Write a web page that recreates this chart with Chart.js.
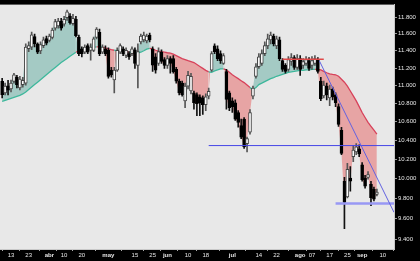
<!DOCTYPE html>
<html><head><meta charset="utf-8">
<script src="https://cdn.jsdelivr.net/npm/chart.js@4/dist/chart.umd.min.js"></script>
<style>html,body{margin:0;padding:0;background:#000;}canvas{display:block;}</style>
</head><body>
<canvas id="c" width="420" height="261"></canvas>
<script>
// ---- data ----
const tradingDays = {
  '2015-03': [10,11,12,13,16,17,18,19,20,23,24,25,26,27,30,31],
  '2015-04': [1,2,7,8,9,10,13,14,15,16,17,20,21,22,23,24,27,28,29,30],
  '2015-05': [4,5,6,7,8,11,12,13,14,15,18,19,20,21,22,25,26,27,28,29],
  '2015-06': [1,2,3,4,5,8,9,10,11,12,15,16,17,18,19,22,23,24,25,26,29,30],
  '2015-07': [1,2,3,6,7,8,9,10,13,14,15,16,17,20,21,22,23,24,27,28,29,30,31],
  '2015-08': [3,4,5,6,7,10,11,12,13,14,17,18,19,20,21,24,25,26,27,28,31],
  '2015-09': [1,2,3,4,7,8,9,10,11,14,15]
};
const open = [11048,10918,10998,10962,11048,11095,10973,11010,11028,11423,11443,11566,11481,11397,11461,11543,11520,11558,11667,11694,11753,11714,11793,11812,11722,11773,11562,11423,11385,11461,11404,11404,11558,11616,11385,11423,11404,11177,11065,11177,11385,11423,11346,11366,11366,11412,11230,11504,11527,11516,11585,11423,11328,11252,11385,11298,11230,11309,11309,11185,11051,11028,10830,10995,10940,10918,10899,10874,10863,10787,10881,11177,11458,11423,11366,11252,11159,10918,10830,10809,10701,10559,10629,10365,10488,10881,11103,11215,11252,11366,11458,11527,11574,11458,11527,11286,11230,11185,11275,11320,11207,11309,11230,11252,11286,11230,11252,11298,11051,10885,10995,10863,10962,10896,10766,10509,9974,9815,10007,10228,10279,10310,10142,10007,10014,9941,9891,9841];
const high = [11084,11028,11061,11062,11140,11117,11106,11095,11481,11504,11620,11597,11492,11504,11562,11574,11597,11667,11773,11785,11785,11808,11886,11844,11832,11808,11585,11446,11469,11481,11481,11562,11675,11655,11469,11458,11435,11207,11207,11435,11481,11446,11435,11389,11446,11435,11481,11597,11620,11597,11608,11446,11366,11435,11412,11320,11343,11332,11343,11207,11073,11051,11028,11162,11140,10940,10918,10896,10885,10907,10973,11389,11481,11458,11400,11366,11185,10940,10863,10841,10722,10629,10647,10435,10733,10995,11252,11366,11412,11504,11597,11620,11597,11574,11562,11309,11252,11332,11366,11343,11355,11343,11309,11332,11320,11332,11343,11320,11095,11051,11028,11006,10984,10918,10798,10541,10014,10159,10125,10348,10365,10352,10166,10034,10074,9974,9914,9894];
const low = [10863,10896,10896,10929,11028,10973,10951,10984,11006,11389,11412,11446,11366,11366,11435,11469,11504,11539,11644,11667,11644,11690,11761,11714,11702,11562,11343,11328,11366,11366,11290,11389,11539,11343,11366,11343,11084,11095,10918,11162,11366,11343,11320,11298,11343,11196,10973,11481,11504,11492,11504,11162,11140,11230,11252,11196,11196,11140,11140,11028,10896,10882,10755,10962,10907,10737,10668,10668,10679,10722,10852,11162,11366,11286,11252,11241,10737,10722,10701,10615,10541,10418,10314,10279,10467,10852,11084,11196,11230,11343,11423,11481,11458,11423,11286,11162,11140,11162,11230,11185,11185,11117,11196,11230,11173,11185,11230,11140,10831,10863,10841,10776,10841,10766,10551,10248,9501,9805,9874,10176,10248,10228,9974,9904,9994,9727,9775,9825];
const close = [10899,10995,10948,11028,11121,11010,11073,11059,11443,11461,11588,11481,11385,11473,11527,11489,11574,11644,11746,11753,11667,11773,11864,11734,11785,11577,11366,11366,11443,11385,11443,11539,11655,11366,11443,11366,11103,11121,11177,11404,11461,11366,11404,11328,11423,11252,11389,11574,11585,11574,11527,11233,11177,11389,11275,11230,11309,11252,11158,11051,10918,10899,10995,11117,11106,10809,10798,10809,10787,10874,10936,11366,11389,11309,11286,11343,10845,10755,10766,10629,10594,10435,10331,10418,10701,10973,11215,11328,11366,11461,11539,11585,11481,11539,11309,11185,11162,11298,11320,11207,11309,11185,11275,11298,11196,11286,11309,11162,10853,11006,10896,10962,10874,10809,10572,10262,9759,10095,9974,10296,10331,10258,9991,9924,10041,9808,9792,9864];
const ma = [10825,10836,10847,10858,10869,10880,10891,10907,10929,10956,10984,11012,11039,11067,11095,11123,11151,11179,11207,11235,11263,11286,11309,11337,11360,11383,11400,11412,11423,11429,11435,11441,11446,11446,11441,11435,11423,11412,11406,11400,11400,11395,11389,11383,11377,11377,11377,11383,11400,11418,11429,11423,11406,11395,11389,11383,11377,11372,11360,11343,11326,11309,11298,11286,11275,11263,11241,11218,11196,11173,11157,11151,11168,11179,11190,11190,11179,11151,11123,11101,11079,11056,11034,11006,10978,10956,10978,11012,11028,11045,11062,11079,11090,11106,11117,11128,11140,11151,11157,11162,11168,11173,11173,11179,11179,11185,11185,11185,11179,11162,11146,11134,11128,11123,11106,11073,11039,10995,10940,10885,10830,10766,10701,10647,10594,10551,10509,10467];
const tickDates = ['2015-03-13','2015-03-23','2015-04-01','2015-04-10','2015-04-20','2015-05-04','2015-05-15','2015-05-25','2015-06-01','2015-06-10','2015-06-18','2015-07-01','2015-07-14','2015-07-22','2015-08-03','2015-08-07','2015-08-17','2015-08-25','2015-09-01','2015-09-10'];
const tickLabels = ['13','23','abr','10','20','may','15','25','jun','10','18','jul','14','22','ago','07','17','25','sep','10'];
const monthLabels = ['abr','may','jun','jul','ago','sep'];
const yTickValues = [9400,9500,9600,9700,9800,9900,10000,10100,10200,10300,10400,10500,10600,10700,10800,10900,11000,11100,11200,11300,11400,11500,11600,11700,11800,11900];
const supportLevel = 10345, supportFrom = '2015-06-19';
const resistLevel = 11300, resistFrom = '2015-07-24', resistTo = '2015-08-13';
const lowLevel = 9749, lowFrom = '2015-08-19';
const trendX = [107.5, 132.8];
const trendY = [11283, 9661];
const xRange = [-0.73, 132.8];
const yRange = [9305, 11952];

// ---- build ----
const dates = [];
for (const m in tradingDays) for (const d of tradingDays[m]) dates.push(m + '-' + String(d).padStart(2, '0'));
const idx = close.map((_, k) => k);
const up = k => close[k] >= open[k];
const TEAL = '#3db89c', RED = '#d8415a';

const bg = {
  id: 'bg',
  beforeDraw(chart) {
    const {ctx, chartArea: a} = chart;
    ctx.save();
    ctx.fillStyle = '#000';
    ctx.fillRect(0, 0, chart.width, chart.height);
    ctx.fillStyle = '#e8e8e8';
    ctx.fillRect(a.left, a.top, a.right - a.left, a.bottom - a.top);
    ctx.restore();
  }
};

new Chart(document.getElementById('c'), {
  type: 'bar',
  data: {
    datasets: [
      { type: 'line', data: idx.map(k => ({x: k, y: close[k]})), borderWidth: 0, pointRadius: 0,
        fill: {target: 1, above: '#a4cac4', below: '#e7a4a4'}, order: 5 },
      { type: 'line', data: idx.map(k => ({x: k, y: ma[k]})), borderWidth: 1.3, pointRadius: 0, fill: false,
        borderColor: TEAL, segment: { borderColor: c => close[c.p1DataIndex] >= ma[c.p1DataIndex] ? TEAL : RED }, order: 4 },
      { type: 'bar', data: idx.map(k => ({x: k, y: [low[k], high[k]]})), barThickness: 1, grouped: false,
        backgroundColor: c => up(c.dataIndex) ? '#555' : '#111', borderWidth: 0, order: 3 },
      { type: 'bar', data: idx.map(k => ({x: k, y: [open[k], close[k]]})), barThickness: 3, grouped: false,
        backgroundColor: c => up(c.dataIndex) ? '#fbfbfb' : '#000',
        borderColor: c => up(c.dataIndex) ? '#444' : '#000', borderWidth: 1, borderSkipped: false, order: 2 },
      { type: 'line', data: [{x: dates.indexOf(supportFrom), y: supportLevel}, {x: xRange[1], y: supportLevel}],
        borderColor: '#4646e6', borderWidth: 1, pointRadius: 0, fill: false, order: 1 },
      { type: 'line', data: [{x: dates.indexOf(resistFrom), y: resistLevel}, {x: dates.indexOf(resistTo), y: resistLevel}],
        borderColor: '#e04848', borderWidth: 1.5, pointRadius: 0, fill: false, order: 1 },
      { type: 'line', data: [{x: dates.indexOf(lowFrom), y: lowLevel}, {x: xRange[1], y: lowLevel}],
        borderColor: '#9898f4', borderWidth: 2.5, pointRadius: 0, fill: false, order: 1 },
      { type: 'line', data: [{x: trendX[0], y: trendY[0]}, {x: trendX[1], y: trendY[1]}],
        borderColor: '#6262e0', borderWidth: 1, pointRadius: 0, fill: false, order: 0 }
    ]
  },
  options: {
    responsive: false, animation: false, devicePixelRatio: 1,
    layout: { padding: 0 },
    plugins: { legend: { display: false }, tooltip: { enabled: false } },
    scales: {
      x: {
        type: 'linear', position: 'bottom', min: xRange[0], max: xRange[1], offset: false,
        afterFit: s => { s.height = 12; },
        afterBuildTicks: s => { s.ticks = tickDates.map(d => ({value: dates.indexOf(d)})); },
        ticks: {
          autoSkip: false, maxRotation: 0, minRotation: 0, padding: 1, color: '#e6e6e6',
          font: c => ({ family: 'Liberation Sans', size: 6,
            weight: (c.tick && monthLabels.includes(c.tick.label)) ? 'bold' : 'normal' }),
          callback: v => tickLabels[tickDates.indexOf(dates[v])]
        },
        grid: { drawOnChartArea: false, drawTicks: true, tickLength: 2, color: '#aaa' },
        border: { display: true, color: '#c8c8c8', width: 1 }
      },
      y: {
        type: 'logarithmic', position: 'right', min: yRange[0], max: yRange[1],
        afterFit: s => { s.width = 26; },
        afterBuildTicks: s => { s.ticks = yTickValues.map(v => ({value: v})); },
        ticks: {
          padding: 1, color: '#e6e6e6', font: { family: 'Liberation Sans', size: 6 },
          callback: v => v % 200 === 0 ? (v / 1000).toFixed(3) : ''
        },
        grid: { drawOnChartArea: false, drawTicks: true, tickLength: 3, color: '#999' },
        border: { display: true, color: '#c8c8c8', width: 1 }
      }
    }
  },
  plugins: [bg]
});
</script></body></html>
